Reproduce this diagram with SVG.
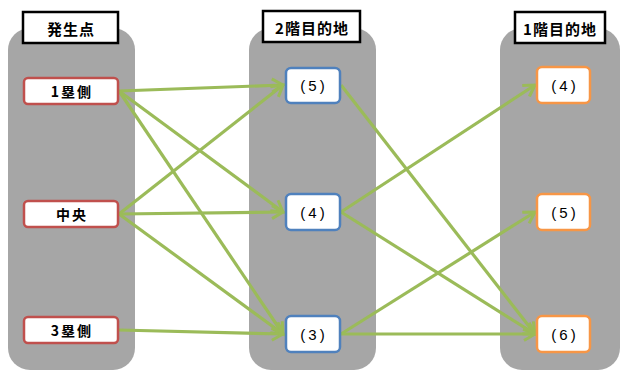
<svg xmlns="http://www.w3.org/2000/svg" width="622" height="372" viewBox="0 0 622 372">
<defs>
<style>
.panel{fill:#a6a6a6}
.title{fill:#fff;stroke:#000;stroke-width:2.5}
.red{fill:#fff;stroke:#c0504d;stroke-width:2.5}
.blue{fill:#fff;stroke:#4f81bd;stroke-width:2.5}
.orange{fill:#fff;stroke:#f79646;stroke-width:2.5}
text{font-family:"Noto Sans CJK JP","Noto Sans",sans-serif;font-weight:bold;font-size:14px;fill:#000;text-anchor:middle;dominant-baseline:central}
.tt{font-size:15px;letter-spacing:1px}
.lbl{letter-spacing:2px}
.num{font-family:"Liberation Sans","Noto Sans",sans-serif;font-weight:normal;font-size:15px;letter-spacing:3px}
.conn line{stroke:#9bbb59;stroke-width:3.2;marker-end:url(#ah)}
</style>
<marker id="ah" markerUnits="userSpaceOnUse" markerWidth="16" markerHeight="16" refX="13" refY="8" orient="auto">
<path d="M2,1.5 L13,8 L2,14.5" fill="none" stroke="#9bbb59" stroke-width="3"/>
</marker>
</defs>
<rect class="panel" x="8" y="28" width="127" height="342" rx="22"/>
<rect class="panel" x="249" y="28" width="127" height="342" rx="22"/>
<rect class="panel" x="500" y="28" width="120" height="342" rx="22"/>
<g id="title1"><rect class="title" x="23" y="12" width="95" height="31"/><text class="tt" x="71" y="28">発生点</text></g>
<g id="title2"><rect class="title" x="263" y="11" width="97" height="31"/><text class="tt" x="312" y="27">2階目的地</text></g>
<g id="title3"><rect class="title" x="515" y="12" width="90" height="31"/><text class="tt" x="560" y="28">1階目的地</text></g>
<g class="conn" id="connectors">
<line x1="119" y1="91" x2="283" y2="85"/>
<line x1="119" y1="91" x2="283" y2="212"/>
<line x1="119" y1="91" x2="283" y2="334"/>
<line x1="119" y1="214" x2="283" y2="85"/>
<line x1="119" y1="214" x2="283" y2="212"/>
<line x1="119" y1="214" x2="283" y2="334"/>
<line x1="119" y1="330" x2="283" y2="334"/>
<line x1="341" y1="85" x2="535" y2="334"/>
<line x1="341" y1="212" x2="535" y2="85"/>
<line x1="341" y1="212" x2="535" y2="334"/>
<line x1="341" y1="334" x2="535" y2="212"/>
<line x1="341" y1="334" x2="535" y2="334"/>
</g>
<g id="n-1rui"><rect class="red" x="24" y="78" width="94" height="26" rx="4"/><text class="lbl" x="72" y="91">1塁側</text></g>
<g id="n-chuo"><rect class="red" x="24" y="201" width="94" height="26" rx="4"/><text class="lbl" x="72" y="214">中央</text></g>
<g id="n-3rui"><rect class="red" x="24" y="317" width="94" height="26" rx="4"/><text class="lbl" x="72" y="330">3塁側</text></g>
<g id="n-2f5"><rect class="blue" x="286" y="68" width="54" height="35" rx="5"/><text class="num" x="314" y="85">(5)</text></g>
<g id="n-2f4"><rect class="blue" x="286" y="194" width="54" height="36" rx="5"/><text class="num" x="314" y="212">(4)</text></g>
<g id="n-2f3"><rect class="blue" x="286" y="316" width="54" height="36" rx="5"/><text class="num" x="314" y="334">(3)</text></g>
<g id="n-1f4"><rect class="orange" x="537" y="67" width="53" height="36" rx="5"/><text class="num" x="565" y="85">(4)</text></g>
<g id="n-1f5"><rect class="orange" x="537" y="194" width="53" height="36" rx="5"/><text class="num" x="565" y="212">(5)</text></g>
<g id="n-1f6"><rect class="orange" x="537" y="316" width="53" height="36" rx="5"/><text class="num" x="565" y="334">(6)</text></g>
</svg>
